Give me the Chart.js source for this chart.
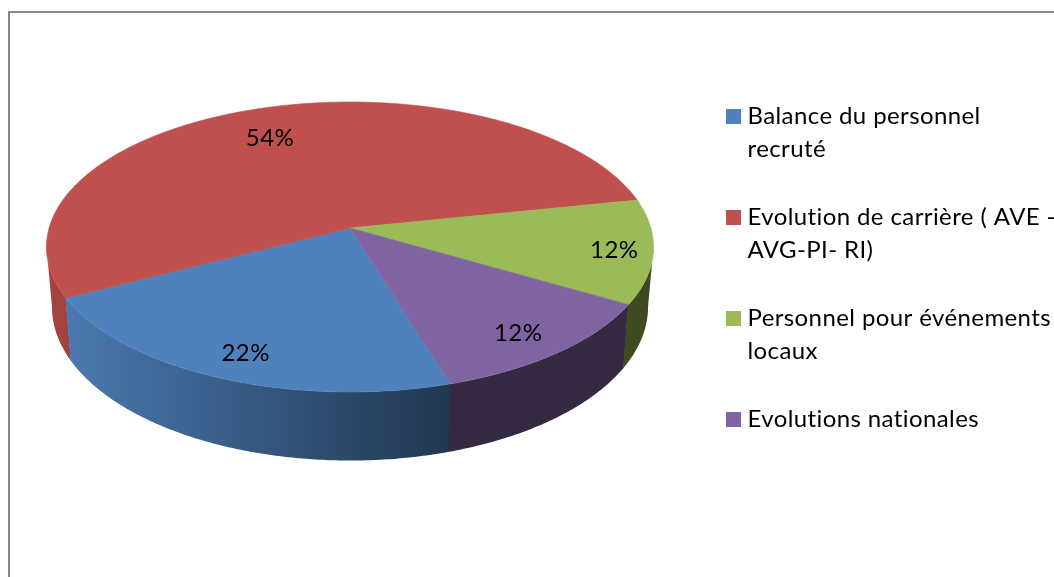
<!DOCTYPE html>
<html>
<head>
<meta charset="utf-8">
<style>
  html, body { margin: 0; padding: 0; background: #fff; overflow: hidden; }
  #frame { position: absolute; left: 8px; top: 11px; right: 0; bottom: 0; border-left: 2px solid #868686; border-top: 2px solid #8c8c8c; }
  #chart { position: absolute; left: 0; top: 0; }
</style>
</head>
<body>
<div id="frame"></div>
<canvas id="chart" width="1054" height="577"></canvas>
<script src="https://cdn.jsdelivr.net/npm/chart.js"></script>
<script>
// --------- Data ---------
const categories = ["Balance du personnel recruté", "Evolution de carrière ( AVE - AVG-PI- RI)", "Personnel pour événements locaux", "Evolutions nationales"];
const legendLines = [["Balance du personnel", "recruté"], ["Evolution de carrière ( AVE -", "AVG-PI- RI)"], ["Personnel pour événements", "locaux"], ["Evolutions nationales"]];
const values = [22.1, 54.4, 11.6, 11.9]; // labels show them rounded, decimals

// --------- Styles ---------
const topColors = ["#4f81bd", "#c0504d", "#9bbb59", "#8064a2"];
const wallColors = [["#203750", "#4a79b0"], ["#a5433f", "#a5433f"], ["#3f4a21", "#3f4a21"], ["#352a42", "#352a42"]];
const labelRadius = [0.85, 0.75, 0.87, 0.85];
const labelNudge = [[6, 1], [-11, 2], [1, 2], [-6, 1]];
const fontFamily = "Lato, Carlito, sans-serif";
const fontSize = 24;
const letterSpacing = "0.4px";

// Perspective of the tilted pie
const view = { shiftX: 1.75, shiftY: -95.25, squash: 0.4736, tilt: 0.131, depth: 58.7, depthX: 0.982, depthY: 1.06 };

function project(el, angle, frac) {
  const u = frac * Math.cos(angle);
  const v = frac * Math.sin(angle);
  const w = 1 - view.tilt * v;
  return {
    x: el.x + view.shiftX + el.outerRadius * u / w,
    y: el.y + view.shiftY + el.outerRadius * view.squash * v / w
  };
}

function projectLow(el, p) {
  const hx = el.x + view.shiftX;
  const hy = el.y + view.shiftY;
  return { x: hx + (p.x - hx) * view.depthX, y: hy + (p.y - hy) * view.depthY + view.depth };
}

function arcPoints(el, from, to) {
  const steps = Math.max(2, Math.ceil(Math.abs(to - from) / 0.01));
  const pts = [];
  for (let i = 0; i <= steps; i++) pts.push(project(el, from + (to - from) * i / steps, 1));
  return pts;
}

// --------- Slice element: same geometry as the library arc, drawn in perspective ---------
class Arc3D extends Chart.ArcElement {
  static id = "arc3d";
  static defaults = { ...Chart.ArcElement.defaults };

  draw(ctx) {
    const pts = arcPoints(this, this.startAngle, this.endAngle);
    const hub = project(this, 0, 0);
    ctx.save();
    ctx.beginPath();
    ctx.moveTo(hub.x, hub.y);
    pts.forEach(p => ctx.lineTo(p.x, p.y));
    ctx.closePath();
    ctx.fillStyle = this.options.backgroundColor;
    ctx.strokeStyle = this.options.backgroundColor;
    ctx.lineWidth = 0.6;
    ctx.fill();
    ctx.stroke();
    ctx.restore();
  }

  drawWall(ctx, colors) {
    // only the part facing the viewer: between the two silhouette points of the disc
    const twoPi = Math.PI * 2;
    const silhouette = Math.asin(view.tilt);
    let from = this.startAngle;
    let to = this.endAngle;
    while (from > Math.PI) { from -= twoPi; to -= twoPi; }
    const lo = Math.max(from, silhouette);
    const hi = Math.min(to + 0.004, Math.PI - silhouette); // small overlap hides the seam with the next wall
    if (hi <= lo) return;
    const pts = arcPoints(this, lo, hi);
    const low = pts.map(p => projectLow(this, p));
    const xs = pts.concat(low).map(p => p.x);
    const grad = ctx.createLinearGradient(Math.max(...xs), 0, Math.min(...xs), 0);
    grad.addColorStop(0, colors[0]);
    grad.addColorStop(1, colors[1]);
    ctx.save();
    ctx.fillStyle = grad;
    // all quads in one path so no seams show between them
    ctx.beginPath();
    for (let i = 1; i < pts.length; i++) {
      ctx.moveTo(pts[i - 1].x, pts[i - 1].y);
      ctx.lineTo(pts[i].x, pts[i].y);
      ctx.lineTo(low[i].x, low[i].y);
      ctx.lineTo(low[i - 1].x, low[i - 1].y);
      ctx.closePath();
    }
    ctx.fill();
    ctx.restore();
  }
}

class Pie3D extends Chart.PieController {
  static id = "pie3d";
  static defaults = { dataElementType: "arc3d" };

  draw() {
    const meta = this._cachedMeta;
    // back to front: the slice order runs clockwise from the front, so walk it reversed
    for (let i = meta.data.length - 1; i >= 0; i--) meta.data[i].drawWall(this._ctx, wallColors[i]);
    super.draw();
  }
}

// canvas state gets reset on resize, so set the spacing right before measuring and drawing
const textSpacing = {
  id: "textSpacing",
  beforeLayout(chart) { chart.ctx.letterSpacing = letterSpacing; },
  beforeDraw(chart) { chart.ctx.letterSpacing = letterSpacing; }
};

const percentLabels = {
  id: "percentLabels",
  afterDatasetsDraw(chart) {
    const ctx = chart.ctx;
    ctx.save();
    ctx.font = fontSize + "px " + fontFamily;
    ctx.fillStyle = "#000";
    ctx.textAlign = "center";
    ctx.textBaseline = "middle";
    chart.getDatasetMeta(0).data.forEach((el, i) => {
      const mid = (el.startAngle + el.endAngle) / 2;
      const p = project(el, mid, labelRadius[i]);
      ctx.fillText(Math.round(values[i]) + "%", p.x + labelNudge[i][0], p.y + labelNudge[i][1]);
    });
    ctx.restore();
  }
};

Chart.register(Arc3D, Pie3D);

new Chart(document.getElementById("chart"), {
  type: "pie3d",
  data: {
    labels: categories,
    datasets: [{
      data: values,
      backgroundColor: topColors,
      borderWidth: 0,
      clip: false
    }]
  },
  plugins: [textSpacing, percentLabels],
  options: {
    responsive: false,
    animation: false,
    rotation: 163,
    radius: 300.9,
    layout: { padding: { top: 69.5 } },
    plugins: {
      tooltip: { enabled: false },
      legend: {
        position: "right",
        align: "start",
        maxWidth: 357.5,
        labels: {
          padding: 35,
          color: "#000",
          // thin box + thick outline: gives a 15px swatch with the small gap to the text
          boxWidth: 4,
          boxHeight: 4,
          font: { family: fontFamily, size: fontSize, lineHeight: 33 / fontSize },
          generateLabels: () => legendLines.map((lines, i) => ({
            text: lines,
            fillStyle: topColors[i],
            strokeStyle: topColors[i],
            lineWidth: 11,
            fontColor: "#000",
            hidden: false,
            index: i
          }))
        }
      }
    }
  }
});
</script>
</body>
</html>
